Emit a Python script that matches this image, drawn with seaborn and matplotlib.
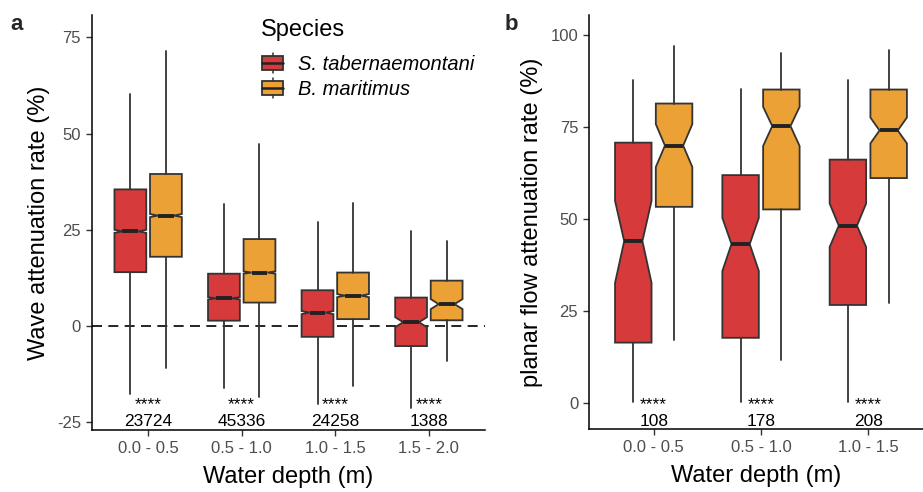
import numpy as np
import matplotlib
matplotlib.use("Agg")
import matplotlib.pyplot as plt
from matplotlib.legend_handler import HandlerBase
from matplotlib.patches import Rectangle
from matplotlib.lines import Line2D
import seaborn as sns

# ---------------- data ----------------
species = ["S. tabernaemontani", "B. maritimus"]
colors = ["#D63A3A", "#EBA135"]

# panel a: wave attenuation rate (%)
depth_a = ["0.0 - 0.5", "0.5 - 1.0", "1.0 - 1.5", "1.5 - 2.0"]
a_whislo = [[-17.7, -16.2, -20.3, -21.4], [-11.0, -18.4, -15.5, -9.1]]
a_q1 = [[14.0, 1.4, -2.8, -5.2], [18.0, 6.1, 1.8, 1.5]]
a_med = [[24.6, 7.2, 3.5, 1.0], [28.7, 13.9, 7.9, 5.7]]
a_q3 = [[35.5, 13.6, 9.3, 7.4], [39.5, 22.6, 13.9, 11.8]]
a_whishi = [[60.4, 31.6, 27.1, 24.8], [71.5, 47.2, 31.9, 22.2]]
a_notch = [[0.4, 0.3, 0.4, 1.3], [0.4, 0.3, 0.4, 1.3]]
a_n = ["23724", "45336", "24258", "1388"]
a_sig = ["****", "****", "****", "****"]

# panel b: planar flow attenuation rate (%)
depth_b = ["0.0 - 0.5", "0.5 - 1.0", "1.0 - 1.5"]
b_whislo = [[0.3, 0.3, 0.3], [17.3, 11.7, 27.3]]
b_q1 = [[16.5, 17.8, 26.7], [53.3, 52.6, 61.1]]
b_med = [[44.0, 43.2, 48.2], [69.9, 75.2, 74.0]]
b_q3 = [[70.7, 61.9, 66.1], [81.3, 85.1, 85.1]]
b_whishi = [[87.6, 85.2, 87.6], [96.9, 95.1, 95.7]]
b_cilo = [[32.7, 35.9, 42.4], [64.1, 69.8, 70.5]]
b_cihi = [[54.9, 50.3, 54.2], [75.7, 80.4, 77.5]]
b_n = ["108", "178", "208"]
b_sig = ["****", "****", "****"]

# ---------------- style ----------------
sns.set_theme(style="ticks")
plt.rcParams["font.family"] = ["Liberation Sans", "DejaVu Sans"]
plt.rcParams["axes.unicode_minus"] = False

EDGE = "#333333"
TICKC = "#4D4D4D"
DODGE = 0.19
WIDTH = 0.34


def draw_boxes(ax, whislo, q1, med, q3, whishi, cilo, cihi):
    for s in range(len(species)):
        stats = []
        for g in range(len(med[s])):
            stats.append(dict(whislo=whislo[s][g], q1=q1[s][g], med=med[s][g],
                              q3=q3[s][g], whishi=whishi[s][g],
                              cilo=cilo[s][g], cihi=cihi[s][g], fliers=[]))
        pos = np.arange(len(stats)) + (s - 0.5) * 2 * DODGE
        ax.bxp(stats, positions=pos, widths=WIDTH, shownotches=True,
               patch_artist=True, showcaps=False, showfliers=False,
               manage_ticks=False,
               boxprops=dict(facecolor=colors[s], edgecolor=EDGE, linewidth=1.3),
               medianprops=dict(color="#222222", linewidth=2.8, solid_capstyle="butt"),
               whiskerprops=dict(color=EDGE, linewidth=1.3))


def style_axis(ax, labels, ylabel):
    ax.set_xticks(np.arange(len(labels)))
    ax.set_xticklabels(labels)
    ax.set_xlabel("Water depth (m)", fontsize=17, color="black", labelpad=7)
    ax.set_ylabel(ylabel, fontsize=17, color="black", labelpad=5)
    ax.tick_params(axis="both", labelsize=12, labelcolor=TICKC, color="#333333",
                   length=4, width=1.0, pad=4)
    for sp in ["left", "bottom"]:
        ax.spines[sp].set_color("black")
        ax.spines[sp].set_linewidth(1.1)
    sns.despine(ax=ax)


def annotate_counts(ax, sig, counts, y):
    # significance stars stacked above the sample size of each depth class
    for g in range(len(counts)):
        ax.text(g, y, f"{sig[g]}\n{counts[g]}", ha="center", va="bottom",
                fontsize=12.5, color="black", linespacing=1.15,
                multialignment="center")


fig = plt.figure(figsize=(9.23, 4.92), dpi=100)
ax_a = fig.add_axes([92 / 923, 62 / 492, 393 / 923, 415 / 492])
ax_b = fig.add_axes([589.3 / 923, 62.7 / 492, 333.7 / 923, 414.3 / 492])

# ---- panel a ----
a_cilo = [[m - h for m, h in zip(a_med[s], a_notch[s])] for s in range(2)]
a_cihi = [[m + h for m, h in zip(a_med[s], a_notch[s])] for s in range(2)]
ax_a.axhline(0, color="black", linestyle=(0, (6, 3.8)), linewidth=1.2, zorder=0.5)
draw_boxes(ax_a, a_whislo, a_q1, a_med, a_q3, a_whishi, a_cilo, a_cihi)
ax_a.set_xlim(-0.6, 3.6)
ax_a.set_ylim(-27, 80.8)
ax_a.set_yticks([-25, 0, 25, 50, 75])
style_axis(ax_a, depth_a, "Wave attenuation rate (%)")
annotate_counts(ax_a, a_sig, a_n, -26.7)

# ---- panel b ----
draw_boxes(ax_b, b_whislo, b_q1, b_med, b_q3, b_whishi, b_cilo, b_cihi)
ax_b.set_xlim(-0.6, 2.51)
ax_b.set_ylim(-7, 105.3)
ax_b.set_yticks([0, 25, 50, 75, 100])
style_axis(ax_b, depth_b, "planar flow attenuation rate (%)")
annotate_counts(ax_b, b_sig, b_n, -6.9)

# panel letters
fig.text(10 / 923, 1 - 25 / 492, "a", fontsize=16, fontweight="bold", va="center")
fig.text(505 / 923, 1 - 25 / 492, "b", fontsize=16, fontweight="bold", va="center")


# legend keys drawn as small boxplot glyphs
class BoxKey(HandlerBase):
    def create_artists(self, legend, orig_handle, xdescent, ydescent,
                       width, height, fontsize, trans):
        fc = orig_handle.get_facecolor()
        cx = width / 2 - xdescent
        bh = height * 0.8
        by = (height - bh) / 2 - ydescent
        rect = Rectangle((-xdescent, by), width, bh, facecolor=fc,
                         edgecolor=EDGE, linewidth=1.3, transform=trans)
        mid = Line2D([-xdescent, width - xdescent], [by + bh / 2] * 2,
                     color="#222222", linewidth=1.8, transform=trans)
        wt = Line2D([cx, cx], [by + bh, by + bh + height * 0.15],
                    color=EDGE, linewidth=1.1, transform=trans)
        wb = Line2D([cx, cx], [by, by - height * 0.15],
                    color=EDGE, linewidth=1.1, transform=trans)
        return [wt, wb, rect, mid]


fig.text(261 / 923, 1 - 19 / 492, "Species", fontsize=17, color="black",
         ha="left", va="top")
handles = [Rectangle((0, 0), 1, 1, facecolor=c) for c in colors]
leg = fig.legend(handles, species, handler_map={Rectangle: BoxKey()},
                 loc="upper left", bbox_to_anchor=(254 / 923, 1 - 46 / 492), frameon=False,
                 fontsize=14.5, handlelength=1.05, handleheight=1.0, handletextpad=0.75,
                 labelspacing=0.25, borderaxespad=0)
for t in leg.get_texts():
    t.set_fontstyle("italic")
    t.set_color("black")

fig.savefig("out.png", dpi=100)
